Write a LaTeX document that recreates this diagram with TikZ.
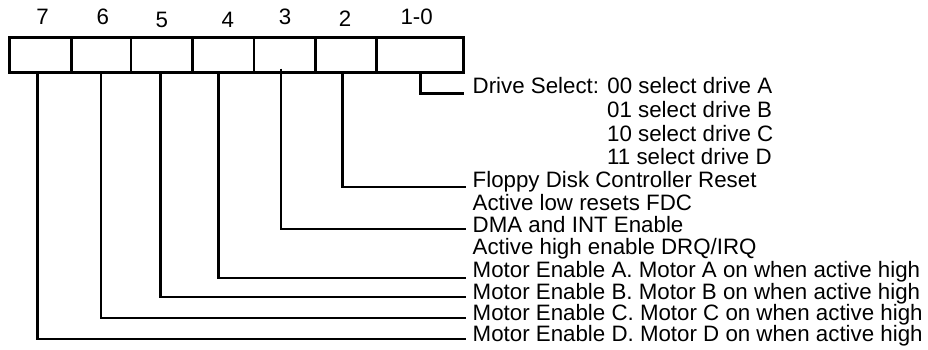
\documentclass[tikz,border=0pt]{standalone}
\usepackage{fontspec}
\setmainfont{Liberation Sans}
\begin{document}
\begin{tikzpicture}[x=1pt,y=-1pt,
  cell/.style={draw,line width=2.7pt,inner sep=0pt,outer sep=0pt,minimum height=35.4pt},
  bitnum/.style={anchor=base,inner sep=0pt,font=\fontsize{22.3}{26}\selectfont},
  desc/.style={anchor=base west,inner sep=0pt,font=\fontsize{22.3}{26}\selectfont},
  wire/.style={line width=2.7pt}]
\useasboundingbox (0,0) rectangle (928,349);
% register cells
\node[cell,minimum width=62pt]   (c7)  at (40.3,55) {};
\node[cell,minimum width=59.7pt] (c6)  at (101.15,55) {};
\node[cell,minimum width=61.3pt] (c5)  at (161.65,55) {};
\node[cell,minimum width=61.7pt] (c4)  at (223.15,55) {};
\node[cell,minimum width=61.7pt] (c3)  at (284.85,55) {};
\node[cell,minimum width=61pt]   (c2)  at (346.2,55) {};
\node[cell,minimum width=86.6pt] (c10) at (420,55) {};
% bit numbers
\node[bitnum] (n7)  at (42.7,24) {7};
\node[bitnum] (n6)  at (102.7,24) {6};
\node[bitnum] (n5)  at (161.7,27) {5};
\node[bitnum] (n4)  at (227.7,27) {4};
\node[bitnum] (n3)  at (285,24) {3};
\node[bitnum] (n2)  at (345,26.7) {2};
\node[bitnum] (n10) at (416.7,24) {1-0};
% descriptions
\node[desc] (t10)  at (472.5,93.5) {Drive Select: 00 select drive A};
\node[desc] (t10b) at (607,117) {01 select drive B};
\node[desc] (t10c) at (607,141) {10 select drive C};
\node[desc] (t10d) at (607,164.5) {11 select drive D};
\node[desc] (t2)   at (472.5,187) {Floppy Disk Controller Reset};
\node[desc] (t2b)  at (472.5,210) {Active low resets FDC};
\node[desc] (t3)   at (472.5,232.5) {DMA and INT Enable};
\node[desc] (t3b)  at (472.5,254.5) {Active high enable DRQ/IRQ};
\node[desc] (t4)   at (472.5,277.7) {Motor Enable A. Motor A on when active high};
\node[desc] (t5)   at (472.5,299.5) {Motor Enable B. Motor B on when active high};
\node[desc] (t6)   at (472.5,320.5) {Motor Enable C. Motor C on when active high};
\node[desc] (t7)   at (472.5,341.5) {Motor Enable D. Motor D on when active high};
% connector ends
\coordinate (e10) at (464,93.5);
\coordinate (e2)  at (466,187);
\coordinate (e3)  at (466,229);
\coordinate (e4)  at (466,278);
\coordinate (e5)  at (466,297);
\coordinate (e6)  at (466,318);
\coordinate (e7)  at (466,339);
% connectors
\draw[wire] ([xshift=0.7pt]c10.south) |- (e10);
\draw[wire] ([xshift=-3.9pt]c2.south) |- (e2);
\draw[wire] ([xshift=-3.85pt,yshift=4pt]c3.south) |- (e3);
\draw[wire] ([xshift=-4.85pt]c4.south) |- (e4);
\draw[wire] ([xshift=-0.95pt]c5.south) |- (e5);
\draw[wire] ([xshift=-0.15pt]c6.south) |- (e6);
\draw[wire] ([xshift=-3pt]c7.south) |- (e7);
\end{tikzpicture}
\end{document}
